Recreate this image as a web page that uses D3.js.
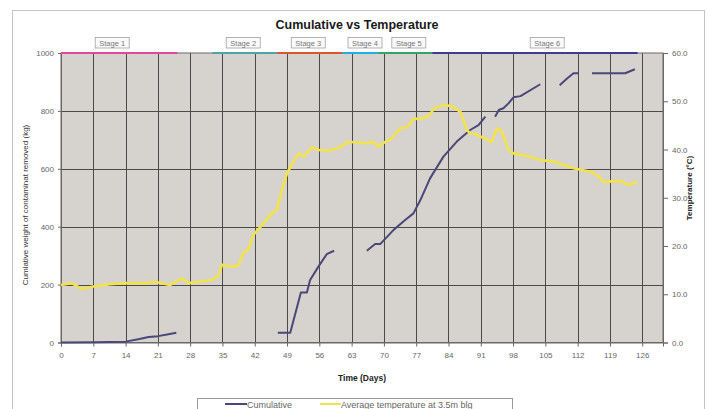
<!DOCTYPE html>
<html>
<head>
<meta charset="utf-8">
<script src="https://cdn.jsdelivr.net/npm/d3@7"></script>
<style>
  body { margin: 0; background: #fff; }
  text { font-family: Arial, "Liberation Sans", sans-serif; }
</style>
</head>
<body>
<div id="chart"></div>
<script>
// day ticks on the x axis
var dayTicks = [0, 7, 14, 21, 28, 35, 42, 49, 56, 63, 70, 77, 84, 91, 98, 105, 112, 119, 126];
var cumTicks = [0, 200, 400, 600, 800, 1000];
var tempTicks = [0, 10, 20, 30, 40, 50, 60];

// cumulative weight removed (kg), null = gap in record
var cumDays = [0, 7, 14, 17, 19, 21, 23, 25, null,
  47, 49.7, 52, 53.3, 54, 55.8, 57.6, 59.2, null,
  66.3, 68.1, 69.2, 72.1, 74.6, 76.4, 77.9, 80, 82.9, 85.8, 88.7, 90.5, 92, null,
  94.1, 94.9, 95.9, 97, 98.1, 99.6, 103.9, null,
  108.1, 109.7, 111.1, 112.2, null,
  115.1, 122.3, 124.4];
var cumValues = [0, 1, 3, 12, 19, 22, 28, 34, null,
  34, 34, 173, 173, 216, 262, 305, 317, null,
  317, 340, 340, 389, 423, 446, 492, 567, 642, 694, 734, 751, 780, null,
  780, 803, 809, 826, 847, 851, 892, null,
  889, 912, 930, 930, null,
  930, 930, 944];

// average temperature at 3.5m bgl (deg C)
var tempDays = [0, 2.3, 4.5, 7, 10.6, 13.9, 18.6, 20.4, 23.6, 26.2, 27.6, 30.2, 32.7, 34.1, 34.9, 37.4, 38.5,
  39.6, 40.6, 41.7, 43.9, 45.7, 46.8, 47.9, 49, 50.4, 51.5, 52.6, 54.4, 55.8, 58.4, 60.5, 62.3, 66.3,
  67.7, 68.8, 70.3, 71.7, 73.5, 75, 76.4, 78.6, 80, 80.8, 82.9, 84.7, 86.6, 88, 88.7, 90.2, 93.4,
  94.5, 95.6, 97, 98.1, 101.7, 103.9, 106.8, 111.1, 114.8, 116.2, 117.6, 121.3, 122.7, 123.8, 124.9];
var tempValues = [11.9, 12.3, 11.1, 11.6, 12.1, 12.3, 12.3, 12.6, 11.9, 13.3, 12.3, 12.6, 13, 13.8, 16.1, 15.7, 16.1,
  18.8, 19.2, 22.3, 24.7, 26.8, 27.5, 31.6, 35.1, 37.5, 39.2, 38.5, 40.5, 39.9, 39.8, 40.5, 41.6, 41.3,
  41.6, 40.6, 41.6, 42.3, 44.4, 44.6, 46.3, 46.5, 47.2, 48.5, 49.2, 49, 47.8, 44, 43.4, 43, 41.6,
  44.4, 43.7, 39.9, 39.2, 38.5, 37.8, 37.5, 36.1, 35.4, 34.7, 33.3, 33.5, 32.8, 32.8, 33.5];

// treatment stages (days)
var stageNames = ["Stage 1", "Stage 2", "Stage 3", "Stage 4", "Stage 5", "Stage 6"];
var stageStart = [0, 32.8, 46.9, 61, 68.8, 80.5];
var stageEnd = [25.2, 46.9, 61, 68.8, 80.5, 125];
var stageLabelDay = [11.1, 39.5, 53.6, 65.9, 75.4, 105.4];

var stageColors = ["#e0489c", "#4aa6a6", "#e0542c", "#20aee6", "#2ea860", "#3c3c92"];

var W = 713, H = 409;
var svg = d3.select("#chart").append("svg")
  .attr("width", W).attr("height", H);

// outer chart frame
svg.append("rect")
  .attr("x", 12.5).attr("y", 10.5)
  .attr("width", 692).attr("height", 420)
  .attr("fill", "#fff").attr("stroke", "#c4c4c4");

var x = d3.scaleLinear().domain([0, 130.5]).range([61, 663]);
var yL = d3.scaleLinear().domain([0, 1000]).range([342.5, 53]);
var yR = d3.scaleLinear().domain([0, 60]).range([342.5, 53]);

// plot area
svg.append("rect")
  .attr("x", x(0)).attr("y", yL(1000))
  .attr("width", x(130.5) - x(0)).attr("height", yL(0) - yL(1000))
  .attr("fill", "#d6d2ce");

// grid
svg.append("g").selectAll("line.v")
  .data(dayTicks.slice(1))
  .enter().append("line")
  .attr("x1", function (d) { return Math.round(x(d)) + 0.5 })
  .attr("x2", function (d) { return Math.round(x(d)) + 0.5 })
  .attr("y1", yL(1000)).attr("y2", yL(0))
  .attr("stroke", "#4c4a48").attr("stroke-width", 1);

svg.append("g").selectAll("line.h")
  .data(cumTicks.slice(1, -1))
  .enter().append("line")
  .attr("x1", x(0)).attr("x2", x(130.5))
  .attr("y1", function (d) { return Math.round(yL(d)) + 0.5 })
  .attr("y2", function (d) { return Math.round(yL(d)) + 0.5 })
  .attr("stroke", "#4c4a48").attr("stroke-width", 1);

// plot border
svg.append("rect")
  .attr("x", x(0)).attr("y", yL(1000))
  .attr("width", x(130.5) - x(0)).attr("height", yL(0) - yL(1000))
  .attr("fill", "none").attr("stroke", "#6a6866");

// axes
var axisB = svg.append("g")
  .attr("transform", "translate(0," + yL(0) + ")")
  .call(d3.axisBottom(x).tickValues(dayTicks).tickSize(4).tickPadding(6));
var axisL = svg.append("g")
  .attr("transform", "translate(" + x(0) + ",0)")
  .call(d3.axisLeft(yL).tickValues(cumTicks).tickFormat(d3.format("d")).tickSize(3).tickPadding(4));
var axisR = svg.append("g")
  .attr("transform", "translate(" + x(130.5) + ",0)")
  .call(d3.axisRight(yR).tickValues(tempTicks).tickFormat(d3.format(".1f")).tickSize(5).tickPadding(4));

[axisB, axisL, axisR].forEach(function (a) {
  a.select(".domain").attr("stroke", "#6a6866");
  a.selectAll(".tick line").attr("stroke", "#6a6866");
  a.selectAll(".tick text").attr("fill", "#666").style("font-size", "8px");
});

// stage bars on top
svg.append("g").selectAll("line")
  .data(stageNames)
  .enter().append("line")
  .attr("x1", function (d, i) { return x(stageStart[i]) })
  .attr("x2", function (d, i) { return x(stageEnd[i]) })
  .attr("y1", yL(1000)).attr("y2", yL(1000))
  .attr("stroke", function (d, i) { return stageColors[i] })
  .attr("stroke-width", 2.2);

var stg = svg.append("g").selectAll("g")
  .data(stageNames)
  .enter().append("g")
  .attr("transform", function (d, i) { return "translate(" + x(stageLabelDay[i]) + ",43)" });
stg.append("rect")
  .attr("x", -17).attr("y", -5.5).attr("width", 34).attr("height", 10.5)
  .attr("fill", "#fafafa").attr("stroke", "#a0a0a0").attr("stroke-width", 0.8);
stg.append("text")
  .attr("text-anchor", "middle").attr("dy", "0.34em")
  .attr("fill", "#777").style("font-size", "7.5px")
  .text(function (d) { return d });

// series
var cumLine = d3.line()
  .defined(function (d, i) { return cumDays[i] !== null && cumValues[i] !== null })
  .x(function (d, i) { return x(cumDays[i]) })
  .y(function (d, i) { return yL(cumValues[i]) });
svg.append("path")
  .datum(cumDays)
  .attr("fill", "none").attr("stroke", "#4a4878").attr("stroke-width", 2)
  .attr("stroke-linejoin", "round")
  .attr("d", cumLine);

var tempLine = d3.line()
  .x(function (d, i) { return x(tempDays[i]) })
  .y(function (d, i) { return yR(tempValues[i]) });
svg.append("path")
  .datum(tempDays)
  .attr("fill", "none").attr("stroke", "#f2e34c").attr("stroke-width", 2.6)
  .attr("stroke-linejoin", "round")
  .attr("d", tempLine);

// titles
svg.append("text")
  .attr("x", 357).attr("y", 29)
  .attr("text-anchor", "middle")
  .attr("fill", "#1a1a1a").style("font-size", "12.5px").style("font-weight", "bold")
  .text("Cumulative vs Temperature");

svg.append("text")
  .attr("x", 362).attr("y", 381)
  .attr("text-anchor", "middle")
  .attr("fill", "#222").style("font-size", "8.5px").style("font-weight", "bold")
  .text("Time (Days)");

svg.append("text")
  .attr("transform", "translate(28,205) rotate(-90)")
  .attr("text-anchor", "middle")
  .attr("fill", "#333").style("font-size", "8px")
  .text("Cumlative weight of contaminat removed (kg)");

svg.append("text")
  .attr("transform", "translate(692,188) rotate(-90)")
  .attr("text-anchor", "middle")
  .attr("fill", "#222").style("font-size", "8px").style("font-weight", "bold")
  .text("Temperature (\u00B0C)");

// legend
var leg = svg.append("g");
leg.append("rect")
  .attr("x", 197.5).attr("y", 398.5).attr("width", 315).attr("height", 20)
  .attr("fill", "#fff").attr("stroke", "#999");
leg.append("line")
  .attr("x1", 225).attr("x2", 247).attr("y1", 404).attr("y2", 404)
  .attr("stroke", "#4a4878").attr("stroke-width", 2);
leg.append("text")
  .attr("x", 247).attr("y", 407.5)
  .attr("fill", "#666").style("font-size", "9px")
  .text("Cumulative");
leg.append("line")
  .attr("x1", 320).attr("x2", 341).attr("y1", 404).attr("y2", 404)
  .attr("stroke", "#f2e34c").attr("stroke-width", 2);
leg.append("text")
  .attr("x", 341).attr("y", 407.5)
  .attr("fill", "#666").style("font-size", "9px")
  .text("Average temperature at 3.5m blg");
</script>
</body>
</html>
